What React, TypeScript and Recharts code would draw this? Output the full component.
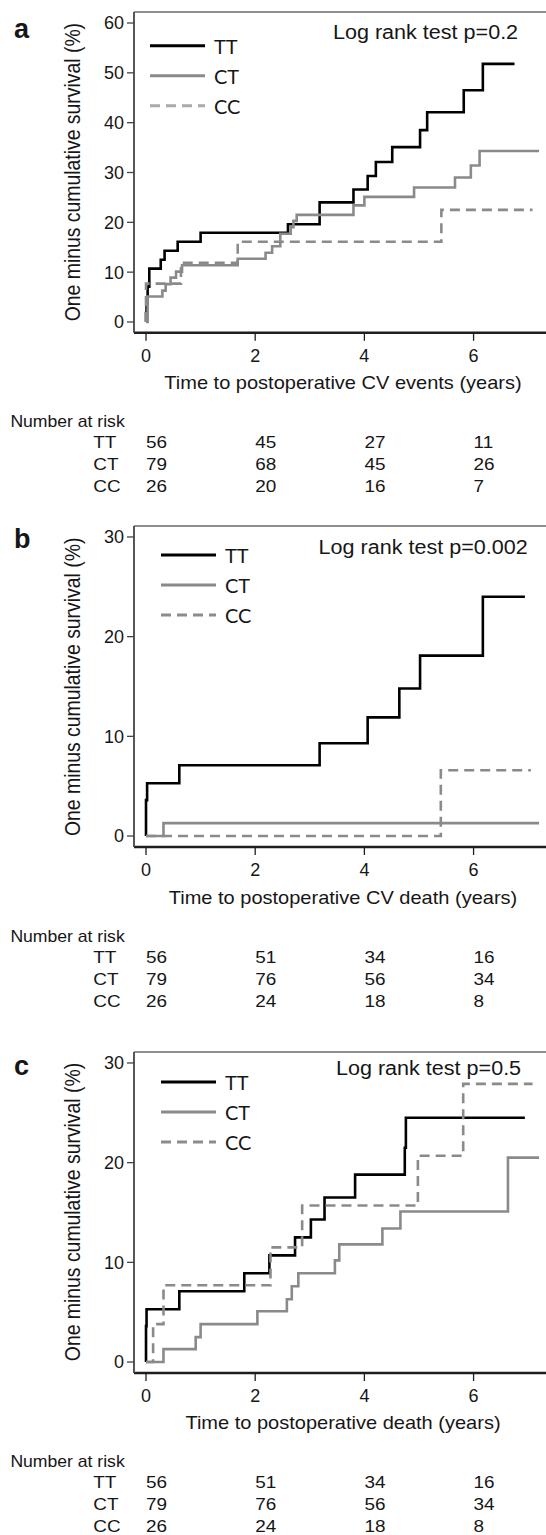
import React from "react";
import { LineChart, Line, XAxis, YAxis, ReferenceLine } from "recharts";

// ---- panel a: CV events ----
const aTTt = [0, 0, 0.01, 0.03, 0.06, 0.27, 0.34, 0.58, 1.0, 2.6, 3.18, 3.8, 4.06, 4.21, 4.51, 5.02, 5.15, 5.82, 6.17, 6.75];
const aTTv = [0, 1.8, 3.6, 7.1, 10.7, 12.5, 14.3, 16.1, 17.9, 19.6, 24.0, 26.6, 29.3, 32.1, 35.1, 38.5, 42.1, 46.5, 51.8, 51.8];
const aCTt = [0, 0.03, 0.3, 0.36, 0.45, 0.55, 0.66, 1.68, 2.19, 2.31, 2.46, 2.65, 2.7, 2.76, 3.8, 4.0, 4.91, 5.66, 5.95, 6.11, 7.2];
const aCTv = [0, 5.1, 6.3, 7.6, 8.9, 10.1, 11.4, 12.7, 13.9, 15.2, 17.7, 19.0, 20.3, 21.5, 23.4, 25.1, 27.0, 29.0, 31.4, 34.3, 34.3];
const aCCt = [0, 0, 0.64, 1.68, 5.41, 7.08];
const aCCv = [0, 7.7, 11.9, 16.1, 22.5, 22.5];

// ---- panel b: CV death ----
const bTTt = [0, 0, 0.02, 0.61, 3.18, 4.06, 4.64, 5.02, 6.17, 6.94];
const bTTv = [0, 3.6, 5.3, 7.1, 9.3, 11.9, 14.8, 18.1, 24.0, 24.0];
const bCTt = [0, 0.32, 7.2];
const bCTv = [0, 1.3, 1.3];
const bCCt = [0, 5.4, 7.05];
const bCCv = [0, 6.6, 6.6];

// ---- panel c: death ----
const cTTt = [0, 0, 0.01, 0.61, 1.8, 2.26, 2.73, 3.02, 3.27, 3.83, 4.74, 4.76, 6.94];
const cTTv = [0, 3.6, 5.3, 7.1, 8.9, 10.7, 12.5, 14.3, 16.5, 18.8, 21.5, 24.5, 24.5];
const cCTt = [0, 0.32, 0.91, 1.0, 2.04, 2.58, 2.67, 2.79, 3.46, 3.54, 4.33, 4.66, 6.63, 7.2];
const cCTv = [0, 1.3, 2.5, 3.8, 5.1, 6.3, 7.6, 8.9, 10.2, 11.8, 13.4, 15.1, 20.5, 20.5];
const cCCt = [0, 0.13, 0.32, 2.28, 2.86, 4.98, 5.81, 7.08];
const cCCv = [0, 3.8, 7.7, 11.5, 15.7, 20.7, 27.9, 27.9];

// number at risk
const riskTimes = [0, 2, 4, 6];
const groups = ["TT", "CT", "CC"];
const riskA = [[56, 45, 27, 11], [79, 68, 45, 26], [26, 20, 16, 7]];
const riskB = [[56, 51, 34, 16], [79, 76, 56, 34], [26, 24, 18, 8]];
const riskC = [[56, 51, 34, 16], [79, 76, 56, 34], [26, 24, 18, 8]];

const xTicks = [0, 2, 4, 6];
const yTicksA = [0, 10, 20, 30, 40, 50, 60];
const yTicksBC = [0, 10, 20, 30];

const FONT = "'Liberation Sans', Arial, Helvetica, sans-serif";
const LEG_FONT = "Lato, 'Open Sans', sans-serif";
const SX = 1.1; // the source figure is slightly stretched sideways

const X_DOMAIN = [-0.22, 7.4];
const PLOT_LEFT = 134;
const PLOT_RIGHT = 550;
const CHART_W = 600;
const TOP_PAD = 10;
const XAXIS_H = 70;

const xPx = (t: number) =>
  PLOT_LEFT + ((t - X_DOMAIN[0]) / (X_DOMAIN[1] - X_DOMAIN[0])) * (PLOT_RIGHT - PLOT_LEFT);

const zip = (t: number[], v: number[]) => t.map((x, i) => ({ t: x, v: v[i] }));

const GRAY = "#8a8a8a";
const styles = [
  { color: "#000", dash: undefined },
  { color: GRAY, dash: undefined },
  { color: GRAY, dash: "10 6" },
];

function Txt({ x, y, size, anchor = "start", sx = SX, weight = "normal", family = FONT, base = "central", rotate = false, children }: any) {
  const tf = rotate
    ? `translate(${x},${y}) rotate(-90) scale(1,${sx})`
    : `translate(${x},${y}) scale(${sx},1)`;
  return (
    <text
      transform={tf}
      fontSize={size}
      textAnchor={anchor}
      dominantBaseline={base}
      fontFamily={family}
      fontWeight={weight}
      fill="#161616"
    >
      {children}
    </text>
  );
}

function Panel({ letter, letterY, boxTop, boxBottom, yDomain, yTicks, series, logrank, logrankX, logrankY, legX, legY, legCC, xTitle, risk }: any) {
  const plotH = boxBottom - boxTop;
  const h = TOP_PAD + plotH + XAXIS_H;
  const midY = (boxTop + boxBottom) / 2;
  return (
    <>
      <div style={{ position: "absolute", left: 0, top: boxTop - TOP_PAD }}>
        <LineChart width={CHART_W} height={h} margin={{ top: TOP_PAD, right: CHART_W - PLOT_RIGHT, bottom: 0, left: PLOT_LEFT - 80 }}>
          <XAxis
            type="number"
            dataKey="t"
            domain={X_DOMAIN}
            ticks={xTicks}
            allowDataOverflow
            height={XAXIS_H}
            tickSize={8}
            tickMargin={8}
            axisLine={{ stroke: "#1e1e1e", strokeWidth: 2.4 }}
            tickLine={{ stroke: "#1e1e1e", strokeWidth: 1.3 }}
            tick={{ fontSize: 18, fill: "#161616", fontFamily: FONT }}
          />
          <YAxis
            type="number"
            domain={yDomain}
            ticks={yTicks}
            allowDataOverflow
            width={80}
            tickSize={7}
            tickMargin={3}
            axisLine={{ stroke: "#444", strokeWidth: 1.8 }}
            tickLine={{ stroke: "#444", strokeWidth: 1.3 }}
            tick={{ fontSize: 18, fill: "#161616", fontFamily: FONT }}
          />
          <ReferenceLine y={yDomain[1]} stroke="#6a6a6a" strokeWidth={1.5} />
          {series.map((d: any, i: number) => (
            <Line
              key={groups[i]}
              data={d}
              dataKey="v"
              type="stepAfter"
              stroke={styles[i].color}
              strokeDasharray={styles[i].dash}
              strokeWidth={2.6}
              dot={false}
              activeDot={false}
              isAnimationActive={false}
            />
          ))}
        </LineChart>
      </div>
      <svg width={546} height={1535} style={{ position: "absolute", left: 0, top: 0, pointerEvents: "none" }}>
        <Txt x={14} y={letterY} size={27} weight="bold" base="alphabetic" sx={1}>{letter}</Txt>
        <Txt x={73} y={midY} size={19.4} anchor="middle" rotate>One minus cumulative survival (%)</Txt>
        <Txt x={logrankX} y={logrankY} size={19.6}>{logrank}</Txt>
        {groups.map((g, i) => (
          <g key={g}>
            <line
              x1={legX}
              x2={legX + 55}
              y1={legY + i * 30}
              y2={legY + i * 30}
              stroke={i === 2 ? legCC : styles[i].color}
              strokeWidth={3}
              strokeDasharray={styles[i].dash}
            />
            <Txt x={legX + 64} y={legY + i * 30} size={20} family={LEG_FONT} sx={1}>{g}</Txt>
          </g>
        ))}
        <Txt x={343} y={boxBottom + 50.5} size={18.2} anchor="middle">{xTitle}</Txt>
        <Txt x={10.4} y={boxBottom + 89.3} size={16}>Number at risk</Txt>
        {groups.map((g, i) => (
          <g key={g}>
            <Txt x={93.3} y={boxBottom + 110 + i * 22} size={17.2}>{g}</Txt>
            {risk[i].map((n: number, j: number) => (
              <Txt key={j} x={xPx(riskTimes[j])} y={boxBottom + 110 + i * 22} size={17.2}>{n}</Txt>
            ))}
          </g>
        ))}
      </svg>
    </>
  );
}

export default function App() {
  return (
    <div style={{ position: "absolute", left: 0, top: 0, width: 546, height: 1535, overflow: "hidden", background: "#fff" }}>
      <Panel
        letter="a"
        letterY={38.3}
        boxTop={11.7}
        boxBottom={332.5}
        yDomain={[-2.17, 62.21]}
        yTicks={yTicksA}
        series={[zip(aTTt, aTTv), zip(aCTt, aCTv), zip(aCCt, aCCv)]}
        logrank="Log rank test p=0.2"
        logrankX={333}
        logrankY={32}
        legX={150}
        legY={45.7}
        legCC="#a9a9a9"
        xTitle="Time to postoperative CV events (years)"
        risk={riskA}
      />
      <Panel
        letter="b"
        letterY={548}
        boxTop={526.3}
        boxBottom={847.3}
        yDomain={[-1.1, 31.1]}
        yTicks={yTicksBC}
        series={[zip(bTTt, bTTv), zip(bCTt, bCTv), zip(bCCt, bCCv)]}
        logrank="Log rank test p=0.002"
        logrankX={318.6}
        logrankY={547}
        legX={161}
        legY={555}
        legCC="#8c8c8c"
        xTitle="Time to postoperative CV death (years)"
        risk={riskB}
      />
      <Panel
        letter="c"
        letterY={1075}
        boxTop={1051.5}
        boxBottom={1372.5}
        yDomain={[-1.1, 31.1]}
        yTicks={yTicksBC}
        series={[zip(cTTt, cTTv), zip(cCTt, cCTv), zip(cCCt, cCCv)]}
        logrank="Log rank test p=0.5"
        logrankX={336}
        logrankY={1068}
        legX={161}
        legY={1082}
        legCC="#8c8c8c"
        xTitle="Time to postoperative death (years)"
        risk={riskC}
      />
    </div>
  );
}
